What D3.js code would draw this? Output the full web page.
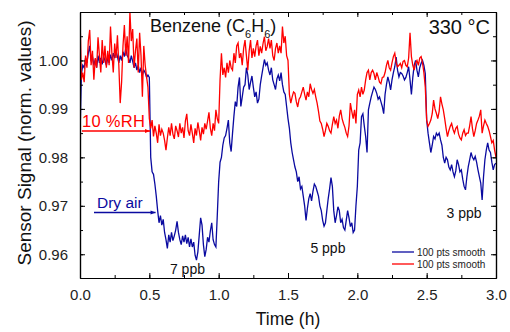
<!DOCTYPE html>
<html>
<head>
<meta charset="utf-8">
<script src="https://cdn.jsdelivr.net/npm/d3@7"></script>
<style>
  body { margin: 0; background: #fff; }
  svg { display: block; font-family: "Liberation Sans", Arial, sans-serif; }
</style>
</head>
<body>
<svg id="chart" width="510" height="332"></svg>
<script>
// ---------- data ----------
const timeStart = 0.0;     // h
const timeStep = 0.01;     // h between samples

const dryAir = [
  0.9840, 0.9972, 0.9990, 0.9985, 1.0005, 0.9995, 1.0015, 1.0030, 0.9998, 1.0008,
  0.9990, 1.0002, 0.9985, 1.0010, 0.9995, 1.0005, 0.9992, 1.0008, 1.0000, 0.9990,
  1.0005, 0.9995, 1.0012, 1.0000, 1.0015, 1.0005, 1.0020, 1.0008, 0.9995, 1.0010,
  1.0000, 1.0018, 1.0008, 1.0025, 1.0010, 1.0005, 0.9995, 1.0010, 0.9998, 0.9985,
  0.9995, 0.9980, 0.9990, 0.9975, 0.9985, 0.9970, 0.9980, 0.9975, 0.9965, 0.9970,
  0.9965, 0.9800, 0.9770, 0.9765, 0.9745, 0.9720, 0.9690, 0.9665, 0.9680, 0.9660,
  0.9672, 0.9645, 0.9630, 0.9612, 0.9640, 0.9625, 0.9645, 0.9628, 0.9638, 0.9650,
  0.9668, 0.9645, 0.9630, 0.9620, 0.9638, 0.9625, 0.9640, 0.9622, 0.9635, 0.9615,
  0.9632, 0.9615, 0.9625, 0.9598, 0.9588, 0.9605, 0.9640, 0.9675, 0.9660, 0.9620,
  0.9595, 0.9610, 0.9635, 0.9625, 0.9648, 0.9665, 0.9630, 0.9620, 0.9615, 0.9680,
  0.9750, 0.9790, 0.9800, 0.9825, 0.9840, 0.9845, 0.9860, 0.9877, 0.9830, 0.9812,
  0.9850, 0.9885, 0.9915, 0.9905, 0.9945, 0.9965, 0.9905, 0.9925, 0.9945, 0.9950,
  0.9985, 0.9970, 0.9940, 0.9955, 0.9968, 0.9945, 0.9925, 0.9935, 0.9912, 0.9920,
  0.9950, 0.9968, 0.9985, 1.0002, 0.9990, 0.9995, 0.9980, 0.9970, 0.9985, 0.9960,
  0.9950, 0.9940, 0.9962, 0.9970, 0.9958, 0.9975, 0.9950, 0.9935, 0.9930, 0.9905,
  0.9880, 0.9860, 0.9830, 0.9810, 0.9795, 0.9780, 0.9770, 0.9750, 0.9760, 0.9735,
  0.9740, 0.9720, 0.9700, 0.9670, 0.9695, 0.9715, 0.9725, 0.9710, 0.9730, 0.9745,
  0.9740, 0.9730, 0.9720, 0.9700, 0.9690, 0.9670, 0.9658, 0.9665, 0.9690, 0.9715,
  0.9735, 0.9758, 0.9740, 0.9690, 0.9665, 0.9680, 0.9698, 0.9690, 0.9665, 0.9672,
  0.9655, 0.9650, 0.9670, 0.9690, 0.9675, 0.9657, 0.9665, 0.9645, 0.9650, 0.9700,
  0.9740, 0.9815, 0.9830, 0.9884, 0.9890, 0.9865, 0.9843, 0.9810, 0.9898, 0.9912,
  0.9925, 0.9935, 0.9945, 0.9940, 0.9932, 0.9920, 0.9925, 0.9915, 0.9905, 0.9890,
  0.9930, 0.9950, 0.9966, 0.9955, 0.9939, 0.9960, 0.9975, 0.9987, 1.0007, 0.9980,
  0.9966, 0.9975, 0.9973, 0.9968, 0.9960, 0.9965, 0.9975, 0.9987, 0.9960, 0.9930,
  0.9965, 0.9990, 1.0000, 0.9980, 0.9966, 0.9985, 0.9994, 1.0000, 0.9990, 0.9973,
  0.9877, 0.9850, 0.9830, 0.9810, 0.9825, 0.9843, 0.9838, 0.9850, 0.9845, 0.9850,
  0.9836, 0.9825, 0.9800, 0.9788, 0.9800, 0.9795, 0.9780, 0.9774, 0.9785, 0.9770,
  0.9760, 0.9772, 0.9795, 0.9785, 0.9770, 0.9774, 0.9755, 0.9740, 0.9733, 0.9760,
  0.9781, 0.9795, 0.9810, 0.9800, 0.9795, 0.9802, 0.9790, 0.9774, 0.9760, 0.9747,
  0.9712, 0.9760, 0.9795, 0.9815, 0.9830, 0.9815, 0.9810, 0.9790, 0.9774, 0.9785, 0.9788
];

const humidAir = [
  1.0095, 0.9960, 0.9975, 0.9955, 1.0010, 0.9985, 1.0040, 1.0063, 0.9990, 1.0020,
  0.9960, 1.0005, 0.9985, 1.0048, 1.0010, 0.9975, 1.0042, 0.9995, 1.0030, 0.9985,
  1.0020, 0.9990, 1.0070, 1.0015, 0.9975, 1.0035, 1.0005, 1.0052, 0.9990, 0.9912,
  0.9955, 1.0030, 1.0073, 1.0010, 1.0050, 0.9995, 1.0100, 1.0040, 1.0065, 0.9985,
  1.0020, 1.0045, 0.9975, 1.0057, 1.0010, 0.9925, 1.0030, 0.9990, 0.9966, 0.9945,
  0.9880, 0.9860, 0.9877, 0.9843, 0.9865, 0.9850, 0.9830, 0.9868, 0.9845, 0.9858,
  0.9850, 0.9835, 0.9815, 0.9840, 0.9862, 0.9845, 0.9870, 0.9848, 0.9838, 0.9865,
  0.9855, 0.9842, 0.9870, 0.9850, 0.9862, 0.9840, 0.9875, 0.9890, 0.9855, 0.9845,
  0.9868, 0.9850, 0.9830, 0.9860, 0.9845, 0.9872, 0.9855, 0.9835, 0.9862, 0.9848,
  0.9870, 0.9858, 0.9875, 0.9893, 0.9860, 0.9845, 0.9870, 0.9855, 0.9898, 0.9880,
  0.9870, 0.9960, 1.0015, 0.9970, 0.9985, 0.9965, 0.9995, 0.9975, 1.0000, 0.9985,
  0.9980, 1.0015, 0.9995, 1.0030, 1.0036, 1.0005, 1.0015, 0.9990, 1.0025, 1.0042,
  1.0010, 0.9980, 1.0020, 1.0042, 1.0005, 1.0025, 1.0008, 1.0030, 1.0042, 1.0010,
  1.0029, 1.0015, 1.0035, 1.0049, 1.0020, 1.0029, 1.0045, 1.0025, 1.0042, 1.0010,
  1.0000, 1.0025, 1.0036, 1.0015, 1.0030, 1.0015, 1.0070, 1.0036, 1.0050, 1.0010,
  1.0000, 0.9930, 0.9912, 0.9925, 0.9935, 0.9932, 0.9915, 0.9904, 0.9920, 0.9925,
  0.9935, 0.9945, 0.9930, 0.9918, 0.9935, 0.9925, 0.9952, 0.9940, 0.9932, 0.9940,
  0.9925, 0.9912, 0.9895, 0.9875, 0.9870, 0.9858, 0.9843, 0.9855, 0.9870, 0.9864,
  0.9855, 0.9850, 0.9868, 0.9884, 0.9870, 0.9877, 0.9860, 0.9885, 0.9898, 0.9880,
  0.9870, 0.9862, 0.9850, 0.9843, 0.9865, 0.9912, 0.9895, 0.9880, 0.9898, 0.9870,
  0.9930, 0.9939, 0.9925, 0.9945, 0.9930, 0.9939, 0.9960, 0.9975, 0.9980, 0.9960,
  0.9975, 0.9980, 0.9973, 0.9960, 0.9975, 0.9966, 0.9955, 0.9952, 0.9965, 0.9966,
  0.9975, 0.9990, 1.0000, 0.9985, 0.9980, 0.9995, 1.0008, 1.0015, 0.9995, 0.9987,
  0.9990, 0.9994, 0.9985, 0.9998, 1.0000, 0.9990, 0.9987, 1.0005, 1.0057, 1.0008,
  0.9990, 0.9980, 0.9995, 1.0000, 0.9990, 1.0005, 1.0008, 0.9995, 0.9975, 0.9945,
  0.9877, 0.9864, 0.9870, 0.9877, 0.9890, 0.9918, 0.9900, 0.9891, 0.9880, 0.9895,
  0.9925, 0.9910, 0.9898, 0.9880, 0.9860, 0.9843, 0.9855, 0.9864, 0.9870, 0.9858,
  0.9850, 0.9860, 0.9864, 0.9848, 0.9840, 0.9836, 0.9850, 0.9857, 0.9845, 0.9850,
  0.9850, 0.9865, 0.9884, 0.9860, 0.9843, 0.9855, 0.9870, 0.9877, 0.9885, 0.9898,
  0.9850, 0.9865, 0.9877, 0.9870, 0.9864, 0.9855, 0.9843, 0.9830, 0.9835, 0.9815, 0.9800
];

const xTicks = [0.0, 0.5, 1.0, 1.5, 2.0, 2.5, 3.0];
const yTicks = [0.96, 0.97, 0.98, 0.99, 1.00];
const seriesNames = ["Dry air", "10 %RH"];
const legendLabels = ["100 pts smooth", "100 pts smooth"];
const concLabels = ["7 ppb", "5 ppb", "3 ppb"];
const concTimes = [0.775, 1.788, 2.77];
const concValues = [0.9559, 0.9603, 0.9675];

// ---------- layout ----------
const svg = d3.select("#chart");
const m = { left: 80, right: 14, top: 12, bottom: 54 };
const W = 510, H = 332;
const x = d3.scaleLinear().domain([0, 3]).range([m.left, W - m.right]);
const y = d3.scaleLinear().domain([0.9551, 1.0100]).range([H - m.bottom, m.top]);
const blue = "#0a0aa0", red = "#ff0000";

svg.append("defs").append("clipPath").attr("id", "clip")
  .append("rect").attr("x", m.left).attr("y", m.top)
  .attr("width", x(3) - x(0)).attr("height", y.range()[0] - m.top);

const line = d3.line()
  .x((d, i) => x(timeStart + i * timeStep))
  .y(d => y(d));

const plot = svg.append("g").attr("clip-path", "url(#clip)");
plot.append("path").datum(dryAir).attr("d", line)
  .attr("fill", "none").attr("stroke", blue).attr("stroke-width", 1.3);
plot.append("path").datum(humidAir).attr("d", line)
  .attr("fill", "none").attr("stroke", red).attr("stroke-width", 1.3);

// ---------- axes ----------
const xMinor = d3.range(0, 3.001, 0.25);
const yMinor = d3.range(0.96, 1.0101, 0.005);
const fontTick = 15;

function axisStyle(g) {
  g.select(".domain").attr("stroke", "#000").attr("stroke-width", 1.2);
  g.selectAll(".tick line").attr("stroke", "#000").attr("stroke-width", 1);
}

// bottom
const gb = svg.append("g").attr("transform", `translate(0,${y.range()[0]})`)
  .call(d3.axisBottom(x).tickValues(xMinor).tickSize(-3).tickSizeOuter(0).tickFormat(""));
axisStyle(gb);
const gb2 = svg.append("g").attr("transform", `translate(0,${y.range()[0]})`)
  .call(d3.axisBottom(x).tickValues(xTicks).tickSize(-5).tickSizeOuter(0).tickFormat(d3.format(".1f")).tickPadding(11));
axisStyle(gb2);
gb2.selectAll("text").attr("font-size", fontTick).attr("fill", "#222").attr("font-family", "Liberation Sans, Arial");
// top
const gt = svg.append("g").attr("transform", `translate(0,${m.top})`)
  .call(d3.axisTop(x).tickValues(xMinor).tickSize(-3).tickSizeOuter(0).tickFormat(""));
axisStyle(gt);
const gt2 = svg.append("g").attr("transform", `translate(0,${m.top})`)
  .call(d3.axisTop(x).tickValues(xTicks).tickSize(-5).tickSizeOuter(0).tickFormat(""));
axisStyle(gt2);
// left
const gl = svg.append("g").attr("transform", `translate(${m.left},0)`)
  .call(d3.axisLeft(y).tickValues(yMinor).tickSize(-3).tickSizeOuter(0).tickFormat(""));
axisStyle(gl);
const gl2 = svg.append("g").attr("transform", `translate(${m.left},0)`)
  .call(d3.axisLeft(y).tickValues(yTicks).tickSize(-5).tickSizeOuter(0).tickFormat(d3.format(".2f")).tickPadding(12));
axisStyle(gl2);
gl2.selectAll("text").attr("font-size", fontTick).attr("fill", "#222").attr("font-family", "Liberation Sans, Arial");
// right
const gr = svg.append("g").attr("transform", `translate(${x(3)},0)`)
  .call(d3.axisRight(y).tickValues(yMinor).tickSize(-3).tickSizeOuter(0).tickFormat(""));
axisStyle(gr);
const gr2 = svg.append("g").attr("transform", `translate(${x(3)},0)`)
  .call(d3.axisRight(y).tickValues(yTicks).tickSize(-5).tickSizeOuter(0).tickFormat(""));
axisStyle(gr2);

// axis titles
svg.append("text").attr("x", x(1.5)).attr("y", 325).attr("text-anchor", "middle")
  .attr("font-size", 17.5).attr("fill", "#111").text("Time (h)");
svg.append("text").attr("transform", `translate(31,143) rotate(-90)`)
  .attr("text-anchor", "middle").attr("font-size", 19).attr("fill", "#111")
  .text("Sensor Signal (norm. values)");

// ---------- annotations ----------
const title = svg.append("text").attr("x", 150).attr("y", 32).attr("font-size", 18).attr("fill", "#111");
title.append("tspan").text("Benzene (C");
title.append("tspan").attr("font-size", 11).attr("dy", 6).text("6");
title.append("tspan").attr("dy", -6).text("H");
title.append("tspan").attr("font-size", 11).attr("dy", 6).text("6");
title.append("tspan").attr("dy", -6).text(")");

svg.append("text").attr("x", 490).attr("y", 34).attr("text-anchor", "end")
  .attr("font-size", 20).attr("fill", "#111").text("330 °C");

// arrows
const defs = svg.select("defs");
[["arrRed", red], ["arrBlue", blue]].forEach(([id, c]) => {
  defs.append("marker").attr("id", id).attr("viewBox", "0 0 10 10")
    .attr("refX", 10).attr("refY", 5).attr("markerWidth", 6).attr("markerHeight", 5)
    .attr("orient", "auto").attr("markerUnits", "userSpaceOnUse")
    .append("path").attr("d", "M0,1 L10,5 L0,9 Z").attr("fill", c);
});
svg.append("line").attr("x1", 82).attr("x2", x(0.505)).attr("y1", 131).attr("y2", 131)
  .attr("stroke", red).attr("stroke-width", 1.3).attr("marker-end", "url(#arrRed)");
svg.append("text").attr("x", 82).attr("y", 127).attr("font-size", 16.5).attr("fill", red)
  .attr("letter-spacing", 0.3).text(seriesNames[1]);
svg.append("line").attr("x1", 94).attr("x2", x(0.545)).attr("y1", 212.5).attr("y2", 212.5)
  .attr("stroke", blue).attr("stroke-width", 1.3).attr("marker-end", "url(#arrBlue)");
svg.append("text").attr("x", 97).attr("y", 208).attr("font-size", 15.5).attr("fill", blue).text(seriesNames[0]);

// concentration labels
concLabels.forEach((t, i) => {
  svg.append("text").attr("x", x(concTimes[i])).attr("y", y(concValues[i]))
    .attr("text-anchor", "middle").attr("font-size", 14).attr("fill", "#111").text(t);
});

// legend
[blue, red].forEach((c, i) => {
  const ly = 252 + i * 12;
  svg.append("line").attr("x1", 392).attr("x2", 414).attr("y1", ly).attr("y2", ly)
    .attr("stroke", c).attr("stroke-width", 1.3);
  svg.append("text").attr("x", 417).attr("y", ly + 3.5).attr("font-size", 10)
    .attr("fill", "#222").text(legendLabels[i]);
});
</script>
</body>
</html>
